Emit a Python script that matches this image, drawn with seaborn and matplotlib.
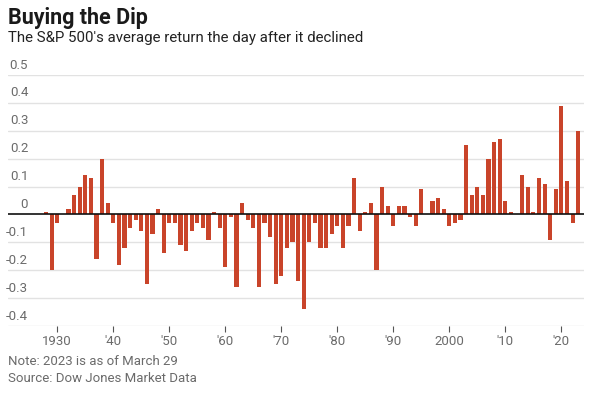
import matplotlib
matplotlib.use("Agg")
import matplotlib.pyplot as plt
import pandas as pd
import seaborn as sns

# Data
years = list(range(1928, 2024))
returns = [
    0.01, -0.20, -0.03, 0.00, 0.02, 0.07, 0.10, 0.14, 0.13, -0.16,   # 1928-37
    0.20, 0.04, -0.03, -0.18, -0.12, -0.05, -0.02, -0.06, -0.25, -0.07,  # 1938-47
    0.02, -0.14, -0.03, -0.03, -0.11, -0.13, -0.06, -0.03, -0.05, -0.09,  # 1948-57
    0.01, -0.05, -0.19, -0.01, -0.26, 0.04, -0.02, -0.05, -0.26, -0.03,  # 1958-67
    -0.08, -0.25, -0.22, -0.12, -0.10, -0.24, -0.34, -0.10, -0.03, -0.12,  # 1968-77
    -0.12, -0.07, -0.04, -0.12, -0.04, 0.13, -0.06, 0.01, 0.04, -0.20,  # 1978-87
    0.10, 0.03, -0.04, 0.03, 0.03, -0.01, -0.04, 0.09, 0.00, 0.05,  # 1988-97
    0.06, 0.02, -0.04, -0.03, -0.02, 0.25, 0.07, 0.10, 0.07, 0.20,  # 1998-2007
    0.26, 0.27, 0.05, 0.01, 0.00, 0.14, 0.10, 0.01, 0.13, 0.11,  # 2008-17
    -0.09, 0.09, 0.39, 0.12, -0.03, 0.30,  # 2018-23
]
y_ticks = [0.5, 0.4, 0.3, 0.2, 0.1, 0, -0.1, -0.2, -0.3, -0.4]
y_labels = ["0.5", "0.4", "0.3", "0.2", "0.1", "0",
            "-0.1", "-0.2", "-0.3", "-0.4"]
x_ticks = [1930, 1940, 1950, 1960, 1970, 1980, 1990, 2000, 2010, 2020]
x_labels = ["1930", "'40", "'50", "'60", "'70", "'80", "'90", "2000",
            "'10", "'20"]

title = "Buying the Dip"
subtitle = "The S&P 500's average return the day after it declined"
note = "Note: 2023 is as of March 29"
source = "Source: Dow Jones Market Data"

bar_color = "#c9442a"
grey = "#6b6b6b"

sns.set_style("white")
plt.rcParams["font.family"] = ["Roboto", "DejaVu Sans"]

df = pd.DataFrame({"year": years, "ret": returns})

fig = plt.figure(figsize=(6, 3.99), dpi=100)
ax = fig.add_axes([8 / 600, 73 / 399, 576 / 600, 251 / 399])

sns.barplot(data=df, x="year", y="ret", native_scale=True,
            color=bar_color, width=0.72, saturation=1, linewidth=0,
            ax=ax, zorder=3)

ax.set_xlim(1921.2, 2024.05)
ax.set_ylim(-0.4, 0.5)

# gridlines and zero line
for t in y_ticks:
    if t == 0:
        continue
    ax.axhline(t, color="#e2e2e2", lw=1, zorder=1)
ax.axhline(0, color="#111111", lw=1.2, zorder=4)

# y labels sit above their gridlines
ax.set_yticks([])
for t, lab in zip(y_ticks, y_labels):
    ax.annotate(lab, xy=(0.035, t), xycoords=("axes fraction", "data"),
                xytext=(0, 2.5), textcoords="offset points",
                ha="right", va="bottom", fontsize=9.5, color=grey)

ax.set_xticks(x_ticks)
ax.set_xticklabels(x_labels)
ax.tick_params(axis="x", length=4.5, width=0.8, color="#555555",
               pad=2, labelsize=9.5, labelcolor=grey, bottom=True)
ax.set_xlabel("")
ax.set_ylabel("")
sns.despine(ax=ax, left=True, bottom=True)

fig.text(8 / 600, 1 - 7 / 399, title, fontsize=15.5, fontweight="bold",
         color="#1a1a1a", ha="left", va="top")
fig.text(8 / 600, 1 - 31 / 399, subtitle, fontsize=10.8, color="#222222",
         ha="left", va="top")
fig.text(8 / 600, 1 - 355 / 399, note, fontsize=9.5, color=grey,
         ha="left", va="top")
fig.text(8 / 600, 1 - 372 / 399, source, fontsize=9.5, color=grey,
         ha="left", va="top")

fig.savefig("out.png", dpi=100, facecolor="white")
